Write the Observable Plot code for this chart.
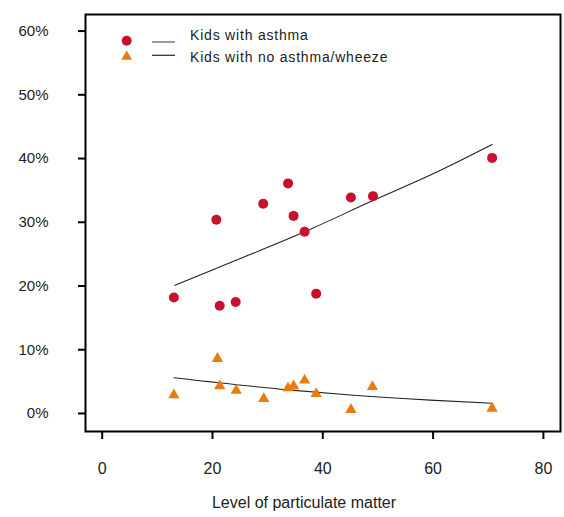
<!DOCTYPE html>
<html>
<head>
<meta charset="utf-8">
<script src="https://cdn.jsdelivr.net/npm/d3@7"></script>
<script src="https://cdn.jsdelivr.net/npm/@observablehq/plot@0.6"></script>
<style>
  html, body { margin: 0; padding: 0; background: #fff; }
  #chart svg { display: block; font-family: "Liberation Sans", Arial, sans-serif; }
</style>
</head>
<body>
<div id="chart"></div>
<script>
// Level of particulate matter (x) and percentage of kids (y)
const asthmaX = [13.0, 20.7, 21.3, 24.2, 29.2, 33.7, 34.7, 36.7, 38.8, 45.1, 49.1, 70.7];
const asthmaY = [18.2, 30.4, 16.9, 17.5, 32.9, 36.1, 31.0, 28.5, 18.8, 33.9, 34.1, 40.1];
const noAsthmaX = [13.0, 20.9, 21.3, 24.3, 29.3, 33.7, 34.7, 36.7, 38.8, 45.1, 49.0, 70.7];
const noAsthmaY = [2.9, 8.6, 4.3, 3.6, 2.3, 4.0, 4.3, 5.2, 3.1, 0.6, 4.2, 0.8];
// fitted curves
const asthmaFitX = [13.2, 20.2, 36.7, 49.1, 60.0, 70.7];
const asthmaFitY = [20.1, 22.6, 28.5, 33.4, 37.6, 42.2];
const noAsthmaFitX = [13.0, 33.7, 45.0, 59.5, 70.7];
const noAsthmaFitY = [5.6, 3.7, 2.9, 2.1, 1.6];
const xTicks = [0, 20, 40, 60, 80];
const yTicks = [0, 10, 20, 30, 40, 50, 60];
const seriesNames = ["Kids with asthma", "Kids with no asthma/wheeze"];
const xLabel = "Level of particulate matter";

const RED = "#c8102e", ORANGE = "#e87d0e";
const zip = (xs, ys) => xs.map((x, i) => ({x, y: ys[i]}));

const chart = Plot.plot({
  width: 564,
  height: 517,
  marginLeft: 85,
  marginRight: 4,
  marginTop: 14,
  marginBottom: 86,
  style: {fontFamily: "Liberation Sans, Arial, sans-serif", background: "#fff"},
  x: {domain: [-3.03, 83.1]},
  y: {domain: [-2.83, 62.6]},
  marks: [
    Plot.line(zip(asthmaFitX, asthmaFitY), {x: "x", y: "y", curve: "monotone-x", stroke: "#222", strokeWidth: 1.1}),
    Plot.line(zip(noAsthmaFitX, noAsthmaFitY), {x: "x", y: "y", curve: "monotone-x", stroke: "#222", strokeWidth: 1.1}),
    Plot.dot(zip(asthmaX, asthmaY), {x: "x", y: "y", r: 5, fill: RED, symbol: "circle"}),
    Plot.dot(zip(noAsthmaX, noAsthmaY), {x: "x", y: "y", r: 4.2, fill: ORANGE, symbol: "triangle"}),
    Plot.frame({stroke: "#000", strokeWidth: 2}),
    Plot.axisX({ticks: xTicks, tickSize: 8, tickPadding: 23, strokeWidth: 2, fontSize: 16, label: null, fill: "#222"}),
    Plot.axisY({ticks: yTicks, tickSize: 7, tickPadding: 30, strokeWidth: 2, fontSize: 15, label: null, tickFormat: d => d + "%", fill: "#222", style: {letterSpacing: "0.3px"}}),
    Plot.text([xLabel], {frameAnchor: "bottom", dy: 71, dx: -19, fontSize: 16, fill: "#222", lineAnchor: "middle", style: {letterSpacing: "0.6px"}})
  ]
});
document.getElementById("chart").appendChild(chart);

// legend
const svg = d3.select(chart);
const lg = svg.append("g").attr("font-size", 14).attr("fill", "#222").attr("text-anchor", "start").style("letter-spacing", "0.8px");
lg.append("circle").attr("cx", 126.7).attr("cy", 40.7).attr("r", 5).attr("fill", RED);
lg.append("path").attr("d", d3.symbol(d3.symbolTriangle, 50)()).attr("transform", "translate(126.7,56.7)").attr("fill", ORANGE);
lg.append("line").attr("x1", 152).attr("x2", 175).attr("y1", 42).attr("y2", 42).attr("stroke", "#555").attr("stroke-width", 1.2);
lg.append("line").attr("x1", 152).attr("x2", 175).attr("y1", 55.3).attr("y2", 55.3).attr("stroke", "#222").attr("stroke-width", 1.2);
lg.append("text").attr("x", 190).attr("y", 35.3).attr("dy", "0.35em").text(seriesNames[0]);
lg.append("text").attr("x", 190).attr("y", 56.7).attr("dy", "0.35em").text(seriesNames[1]);
</script>
</body>
</html>
